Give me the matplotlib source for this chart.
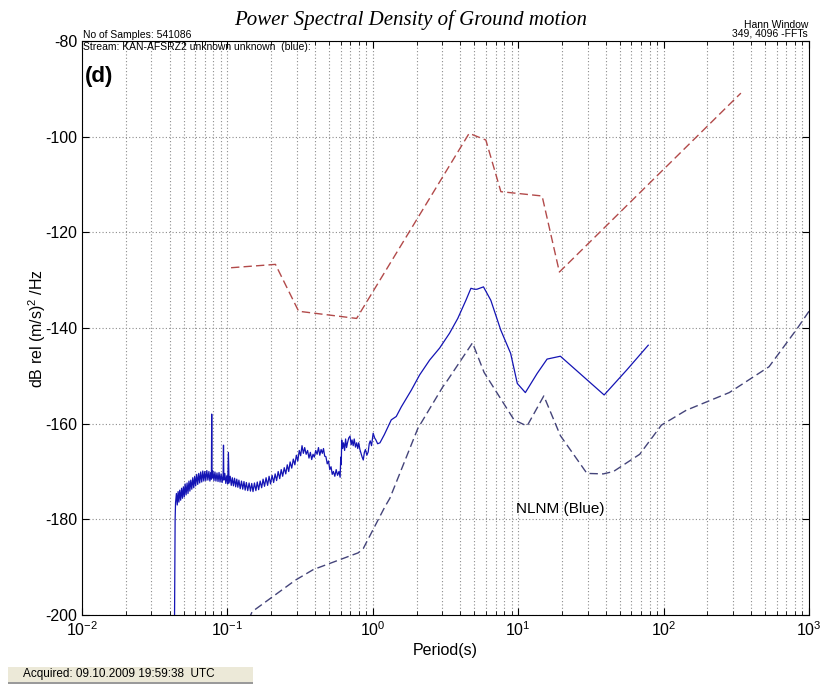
import matplotlib
matplotlib.use("Agg")
import matplotlib.pyplot as plt
from matplotlib import patches
from matplotlib.ticker import LogLocator, MultipleLocator, NullFormatter

plt.rcParams['font.family'] = ['Liberation Sans', 'DejaVu Sans']
plt.rcParams['mathtext.fontset'] = 'custom'
plt.rcParams['mathtext.rm'] = 'Liberation Sans'
plt.rcParams['mathtext.it'] = 'Liberation Sans:italic'
plt.rcParams['axes.unicode_minus'] = False

# station PSD (blue solid)
psd_period = [
    0.0433, 0.0435, 0.0437, 0.0439,
    0.0440, 0.0446, 0.0452, 0.0458, 0.0464, 0.0470, 0.0477, 0.0484, 0.0491, 0.0498,
    0.0505, 0.0512, 0.0520, 0.0528, 0.0536, 0.0544, 0.0552, 0.0560, 0.0569, 0.0578,
    0.0587, 0.0596, 0.0605, 0.0615, 0.0625, 0.0635, 0.0645, 0.0655, 0.0666, 0.0677,
    0.0688, 0.0699, 0.0710, 0.0722, 0.0734, 0.0746, 0.0758, 0.0770, 0.0776, 0.0780,
    0.0784, 0.0795, 0.0808, 0.0821, 0.0834, 0.0848, 0.0862, 0.0876, 0.0890, 0.0905,
    0.0920, 0.0935, 0.0940, 0.0945, 0.0960, 0.0975, 0.0990, 0.1005, 0.1016, 0.1027,
    0.1045, 0.1063, 0.1081, 0.1100, 0.1120, 0.1140, 0.1160, 0.1180, 0.1200, 0.1225,
    0.1250, 0.1275, 0.1300, 0.1325, 0.1350, 0.1380, 0.1410, 0.1440, 0.1470, 0.1500,
    0.1535, 0.1570, 0.1605, 0.1640, 0.1680, 0.1720, 0.1760, 0.1800, 0.1845, 0.1890,
    0.1935, 0.1980, 0.2030, 0.2080, 0.2130, 0.2180, 0.2235, 0.2290, 0.2345, 0.2400,
    0.2460, 0.2520, 0.2580, 0.2640, 0.2700, 0.2770, 0.2840, 0.2910, 0.2980, 0.3050,
    0.3120, 0.3190, 0.3260,
    0.3330, 0.3400, 0.3480, 0.3560, 0.3640, 0.3720, 0.3800, 0.3880, 0.3960, 0.4050,
    0.4140, 0.4230, 0.4320, 0.4410, 0.4500, 0.4580, 0.4670, 0.4760, 0.4860, 0.4960,
    0.5060, 0.5160, 0.5260, 0.5360, 0.5480, 0.5600, 0.5720, 0.5850, 0.5960, 0.6020,
    0.6070, 0.6110, 0.6200, 0.6300, 0.6400, 0.6500, 0.6600, 0.6700, 0.6830, 0.6970,
    0.7100, 0.7200, 0.7330, 0.7450, 0.7600, 0.7740, 0.7880, 0.8000, 0.8150, 0.8300,
    0.8450, 0.8600, 0.8750, 0.8900, 0.9100, 0.9300, 0.9450, 0.9600, 0.9800, 1.006,
    1.03, 1.05, 1.08, 1.12,
    1.20, 1.34, 1.45, 1.57, 1.84, 2.10, 2.46, 2.88, 3.37, 3.84,
    4.37, 4.73, 5.00, 5.20, 5.77, 6.48, 7.58, 8.87, 9.86, 11.2,
    13.5, 15.8, 19.5, 28.2, 39.0, 55.7, 78.4,
]
psd_db = [
    -200, -190, -180, -177.5,
    -176.5, -174.6, -177.0, -174.2, -176.4, -173.9, -176.0, -173.5, -175.6, -173.2,
    -175.3, -172.6, -174.9, -172.4, -174.6, -172.0, -174.1, -171.8, -173.7, -171.3,
    -173.4, -171.0, -173.0, -170.6, -172.7, -170.4, -172.4, -170.1, -172.2, -169.9,
    -172.0, -170.0, -171.9, -169.8, -171.8, -170.0, -172.0, -170.2, -171.6, -158.0,
    -171.4, -169.9, -171.9, -170.1, -172.0, -170.3, -172.1, -170.2, -172.2, -170.5,
    -172.3, -170.6, -164.5, -171.8, -170.4, -172.5, -170.9, -172.6, -166.0, -172.4,
    -171.0, -172.9, -171.3, -173.0, -171.4, -173.2, -171.6, -173.3, -171.8, -173.6,
    -172.0, -173.7, -172.1, -173.9, -172.3, -174.0, -172.4, -174.1, -172.5, -174.2,
    -172.4, -174.0, -172.2, -173.8, -172.0, -173.4, -171.6, -173.1, -171.3, -172.9,
    -171.0, -172.6, -170.8, -172.3, -170.5, -171.9, -170.0, -171.5, -169.6, -171.0,
    -169.2, -170.5, -168.6, -170.0, -168.0, -169.3, -167.4, -168.6, -166.6, -167.8,
    -165.6, -166.7, -164.6,
    -166.2, -165.0, -166.4, -165.6, -167.2, -166.0, -167.5, -166.4, -167.0, -165.6,
    -166.4, -165.0, -166.6, -165.4, -166.2, -165.2, -166.8, -166.9, -168.4, -167.8,
    -169.6, -169.0, -170.6, -170.0, -171.0, -169.6, -170.8, -170.0, -171.2, -167.0,
    -168.5, -163.4, -165.2, -164.0, -165.6, -163.2, -165.0, -164.0, -163.0, -162.6,
    -164.4, -163.4, -164.6, -163.2, -164.9, -164.0, -165.2, -164.0, -165.4, -166.2,
    -167.0, -167.6, -166.0, -165.4, -166.6, -165.9, -164.2, -163.6, -164.6, -162.0,
    -163.0, -163.4, -164.2, -164.0,
    -162.3, -159.2, -158.5, -156.5, -153.0, -149.8, -146.7, -144.2, -141.1, -138.0,
    -134.2, -131.7, -131.9, -131.9, -131.4, -134.2, -140.4, -145.3, -151.6, -153.5,
    -149.5, -146.5, -145.9, -150.2, -154.0, -148.8, -143.6,
]

# red dashed curve
red_period = [0.106, 0.214, 0.309, 0.774, 4.6, 5.99, 7.6, 14.6, 19.2, 340]
red_db = [-127.4, -126.7, -136.5, -138.0, -99.3, -100.7, -111.5, -112.4, -128.3, -90.9]

# NLNM (blue dashed)
nlnm_period = [0.14, 0.148, 0.294, 0.39, 0.794, 0.86, 1.21, 1.31, 2.04, 3.03, 3.27, 4.85,
               5.83, 9.36, 11.5, 15.0, 19.5, 29.7, 38.5, 45.2, 68.5, 96.6, 143, 283,
               531, 830, 1000]
nlnm_db = [-201, -199.3, -192.7, -190.5, -187.0, -186.1, -177.4, -175.6, -161.0, -152.3,
           -150.9, -143.1, -149.3, -159.2, -160.5, -154.2, -162.5, -170.4, -170.5, -170.0,
           -166.4, -160.3, -157.2, -153.5, -148.1, -140.1, -136.5]

W, H = 823, 684
fig = plt.figure(figsize=(W / 100, H / 100), dpi=100)
ax = fig.add_axes([82 / W, 1 - 615 / H, (809 - 82) / W, (615 - 41) / H])

ax.plot(psd_period, psd_db, color='#1414b4', linewidth=0.9)
red_line, = ax.plot(red_period, red_db, color='#b24a4a', linewidth=1.0)
red_line.set_dashes((6, 3))
nlnm_line, = ax.plot(nlnm_period, nlnm_db, color='#44447a', linewidth=1.0)
nlnm_line.set_dashes((6, 3))

ax.set_xscale('log')
ax.set_xlim(1e-2, 1e3)
ax.set_ylim(-200, -80)
ax.yaxis.set_major_locator(MultipleLocator(20))
ax.xaxis.set_major_locator(LogLocator(base=10, numticks=10))
ax.xaxis.set_minor_locator(LogLocator(base=10, subs=range(2, 10), numticks=20))
ax.xaxis.set_minor_formatter(NullFormatter())

grid_style = dict(color='#8c8c8c', linewidth=0.8, linestyle=(0, (1, 2)))
ax.grid(True, which='major', axis='both', **grid_style)
ax.grid(True, which='minor', axis='x', **grid_style)

ax.tick_params(which='both', direction='in', top=True, right=True, labelsize=11.5)
ax.tick_params(which='major', length=5)
ax.tick_params(which='minor', length=3)
for spine in ax.spines.values():
    spine.set_linewidth(0.8)

ax.set_xlabel("Period(s)", fontsize=11.5, labelpad=3)
ax.set_ylabel("dB rel (m/s)$^2$ /Hz", fontsize=11.5, labelpad=-2)

ax.text(9.7, -177.8, "NLNM (Blue)", fontsize=11, va='center', ha='left')
ax.text(0.0104, -87.5, "(d)", fontsize=16, fontweight='bold', va='center', ha='left')

fig.text(411 / W, 1 - 20 / H, "Power Spectral Density of Ground motion",
         family='Liberation Serif', style='italic', fontsize=15, ha='center', va='center')
fig.text(83 / W, 1 - 35 / H, "No of Samples: 541086", fontsize=7.5, va='center', ha='left')
fig.text(83 / W, 1 - 47 / H, "Stream: KAN-AFSRZ2 unknown unknown  (blue):", fontsize=7.5,
         va='center', ha='left')
fig.text(808 / W, 1 - 25 / H, "Hann Window", fontsize=7.5, va='center', ha='right')
fig.text(808 / W, 1 - 34 / H, "349, 4096 -FFTs", fontsize=7.5, va='center', ha='right')

# status bar box at the bottom
fig.patches.append(patches.Rectangle((8 / W, 0), 245 / W, 17 / H, transform=fig.transFigure,
                                     facecolor='#ece9d8', edgecolor='none'))
fig.patches.append(patches.Rectangle((8 / W, 0), 245 / W, 2 / H, transform=fig.transFigure,
                                     facecolor='#9a9a9a', edgecolor='none'))
fig.text(23 / W, 1 - 674 / H, "Acquired: 09.10.2009 19:59:38  UTC", fontsize=8.5,
         va='center', ha='left')

plt.savefig("out.png", dpi=100)
plt.close()
